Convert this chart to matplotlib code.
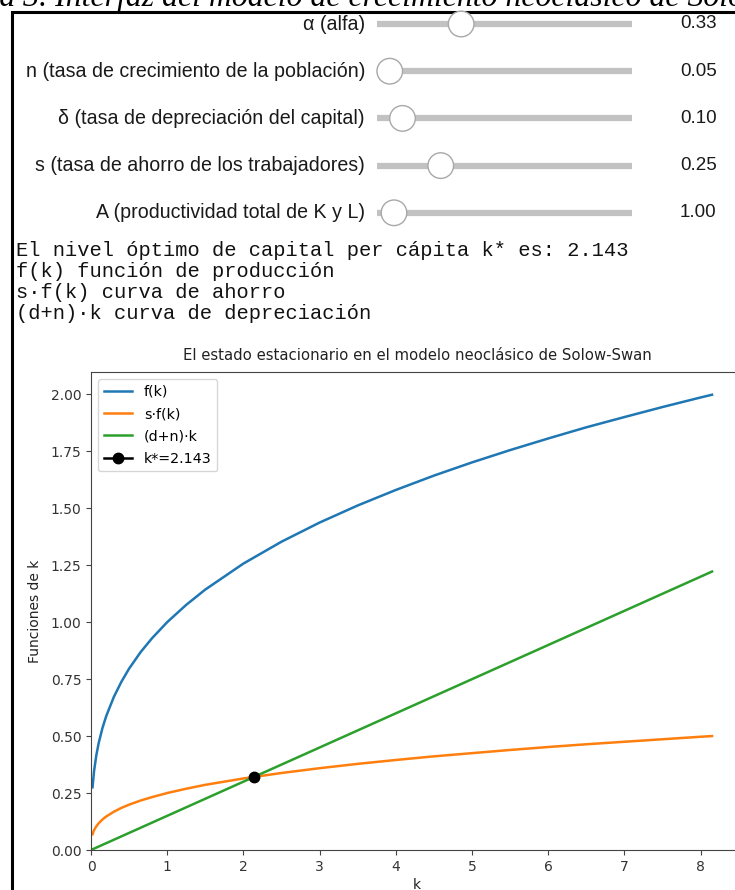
import matplotlib
matplotlib.use("Agg")
import matplotlib.pyplot as plt
from matplotlib.patches import Circle

W, H = 735, 890

# Slider widgets: label, current value and range
slider_labels = [
    "α (alfa)",
    "n (tasa de crecimiento de la población)",
    "δ (tasa de depreciación del capital)",
    "s (tasa de ahorro de los trabajadores)",
    "A (productividad total de K y L)",
]
slider_values = [0.33, 0.05, 0.10, 0.25, 1.00]
slider_lo = [0.0, 0.0, 0.0, 0.0, 0.0]
slider_hi = [1.0, 1.0, 1.0, 1.0, 15.0]

k_star = 2.143

output_lines = [
    f"El nivel óptimo de capital per cápita k* es: {k_star:.3f}",
    "f(k) función de producción",
    "s·f(k) curva de ahorro",
    "(d+n)·k curva de depreciación",
]

# Curves of the Solow-Swan diagram
k_grid = [0.02, 0.04, 0.07, 0.10, 0.15, 0.20, 0.30, 0.40, 0.50, 0.65, 0.80,
          1.00, 1.25, 1.50, 2.00, 2.50, 3.00, 3.50, 4.00, 4.50, 5.00, 5.50,
          6.00, 6.50, 7.00, 7.50, 8.00, 8.15]
production = [0.275, 0.346, 0.416, 0.468, 0.535, 0.588, 0.672, 0.739, 0.796,
              0.868, 0.929, 1.000, 1.076, 1.143, 1.257, 1.353, 1.437, 1.512,
              1.580, 1.643, 1.701, 1.755, 1.806, 1.855, 1.900, 1.944, 1.986,
              1.998]
savings = [0.069, 0.087, 0.104, 0.117, 0.134, 0.147, 0.168, 0.185, 0.199,
           0.217, 0.232, 0.250, 0.269, 0.286, 0.314, 0.338, 0.359, 0.378,
           0.395, 0.411, 0.425, 0.439, 0.452, 0.464, 0.475, 0.486, 0.497,
           0.500]
k_line = [0.02, 8.15]
depreciation = [0.003, 1.222]

n_rate = slider_values[1]
delta = slider_values[2]
y_star = (delta + n_rate) * k_star

fig = plt.figure(figsize=(W / 100, H / 100), dpi=100)

# ---- widget area (pixel coordinates) ----
ui = fig.add_axes([0, 0, 1, 1])
ui.set_xlim(0, W)
ui.set_ylim(H, 0)
ui.axis("off")

ui.text(-73, 6, "Figura 3. Interfaz del modelo de crecimiento neoclásico de Solow-Swan",
        family="Liberation Serif", style="italic", fontsize=22.9,
        ha="left", va="baseline", color="black")

ui.plot([12, 12, W + 5], [H + 5, 12, 12], color="black", lw=2.2,
        solid_joinstyle="miter", clip_on=False)

track_x0, track_x1 = 377, 632
for i, (lab, v, lo, hi) in enumerate(zip(slider_labels, slider_values, slider_lo, slider_hi)):
    y = 24 + i * 47.2
    ui.text(365, y, lab, ha="right", va="center", family="Liberation Sans",
            fontsize=14.1, color="#1a1a1a")
    ui.plot([track_x0, track_x1], [y, y], color="#c2c2c2", lw=4.5,
            solid_capstyle="butt")
    hx = track_x0 + (v - lo) / (hi - lo) * (track_x1 - track_x0)
    ui.add_patch(Circle((hx, y), 12.8, facecolor="white", edgecolor="#a8a8a8",
                        lw=1.0, zorder=3))
    ui.text(680, y, f"{v:.2f}", ha="left", va="center", family="Liberation Sans",
            fontsize=13.5, color="#1a1a1a")

for j, line in enumerate(output_lines):
    ui.text(16, 250 + j * 21.3, line, ha="left", va="center",
            family="Liberation Mono", fontsize=14.7, color="#111111")

# ---- steady-state chart ----
ax = fig.add_axes([91 / W, (H - 850) / H, (743 - 91) / W, (850 - 372) / H])
ax.plot(k_grid, production, label="f(k)", lw=1.8)
ax.plot(k_grid, savings, label="s·f(k)", lw=1.8)
ax.plot(k_line, depreciation, label="(d+n)·k", lw=1.8)
ax.plot([k_star], [y_star], "o-", color="black", ms=7.5, lw=1.8,
        label=f"k*={k_star:.3f}")
ax.set_xlim(left=0)
ax.set_ylim(bottom=0)
ax.set_title("El estado estacionario en el modelo neoclásico de Solow-Swan",
             fontsize=10.7, color="#222222", pad=9)
ax.set_xlabel("k", fontsize=10, color="#222222", labelpad=3)
ax.set_ylabel("Funciones de k", fontsize=10, color="#222222", labelpad=6)
ax.tick_params(labelsize=10, labelcolor="#333333", color="#444444")
for sp in ax.spines.values():
    sp.set_color("#444444")
ax.legend(loc="upper left", fontsize=10.3, labelspacing=0.58,
          handlelength=2.0)

fig.savefig("out.png", dpi=100)
